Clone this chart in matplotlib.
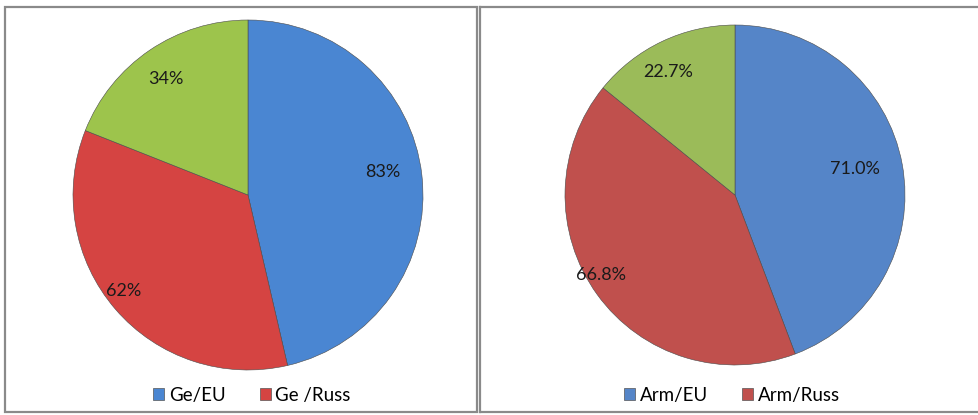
import matplotlib
matplotlib.use("Agg")
import matplotlib.pyplot as plt
import numpy as np
from matplotlib.patches import Rectangle, Patch
from matplotlib.lines import Line2D

plt.rcParams['font.family'] = ['Lato', 'DejaVu Sans']

# Data
ge_labels = ["Ge/EU", "Ge /Russ", ""]
ge_values = [83, 62, 34]
ge_text = ["83%", "62%", "34%"]

arm_labels = ["Arm/EU", "Arm/Russ", ""]
arm_values = [71.0, 66.8, 22.7]
arm_text = ["71.0%", "66.8%", "22.7%"]

ge_colors = ["#4a86d2", "#d54442", "#9dc44c"]
arm_colors = ["#5585c8", "#c0504d", "#9bbb59"]

W, H = 979, 415
fig = plt.figure(figsize=(W / 100, H / 100), dpi=100)
fig.patch.set_facecolor("white")


def fx(px):
    return px / W


def fy(py):
    return 1 - py / H


# Box borders
border = "#8a8a8a"
fig.add_artist(Rectangle((fx(5), fy(412)), fx(472), (405) / H, transform=fig.transFigure,
                         fill=False, edgecolor=border, lw=1.6))
for (x0, y0, x1, y1) in [(480, 7, 980, 7), (480, 412, 980, 412), (480, 7, 480, 412)]:
    fig.add_artist(Line2D([fx(x0), fx(x1)], [fy(y0), fy(y1)], transform=fig.transFigure,
                          color=border, lw=1.6))


def draw_pie(cx, cy, r, values, colors, texts, dists, offs, labels, leg_x):
    ax = fig.add_axes([fx(cx - r), fy(cy + r), 2 * r / W, 2 * r / H])
    wedges, _ = ax.pie(values, colors=colors, startangle=90, counterclock=False,
                       radius=1, wedgeprops=dict(edgecolor="#4a4a4a", linewidth=0.4))
    ax.set_xlim(-1, 1)
    ax.set_ylim(-1, 1)
    ax.axis("off")
    for w, t, d, o in zip(wedges, texts, dists, offs):
        ang = np.deg2rad((w.theta1 + w.theta2) / 2 + o)
        ax.text(d * np.cos(ang), d * np.sin(ang), t, ha="center", va="center",
                fontsize=13, color="#1a1a1a")
    handles = [Patch(facecolor=c, edgecolor="#555555", linewidth=0.5)
               for c, l in zip(colors, labels) if l]
    labs = [l for l in labels if l]
    fig.legend(handles, labs, loc="center", bbox_to_anchor=(fx(leg_x), fy(395)),
               ncol=len(labs), frameon=False, fontsize=13.5, handlelength=0.6,
               handleheight=0.6, handletextpad=0.25, columnspacing=1.8)


draw_pie(248, 195, 175, ge_values, ge_colors, ge_text, [0.78, 0.9, 0.81], [3, -3, 1],
         ge_labels, 252)
draw_pie(735, 195, 170, arm_values, arm_colors, arm_text, [0.72, 0.92, 0.82], [2, -5, 3],
         arm_labels, 732)

fig.savefig("out.png", dpi=100, facecolor="white")
